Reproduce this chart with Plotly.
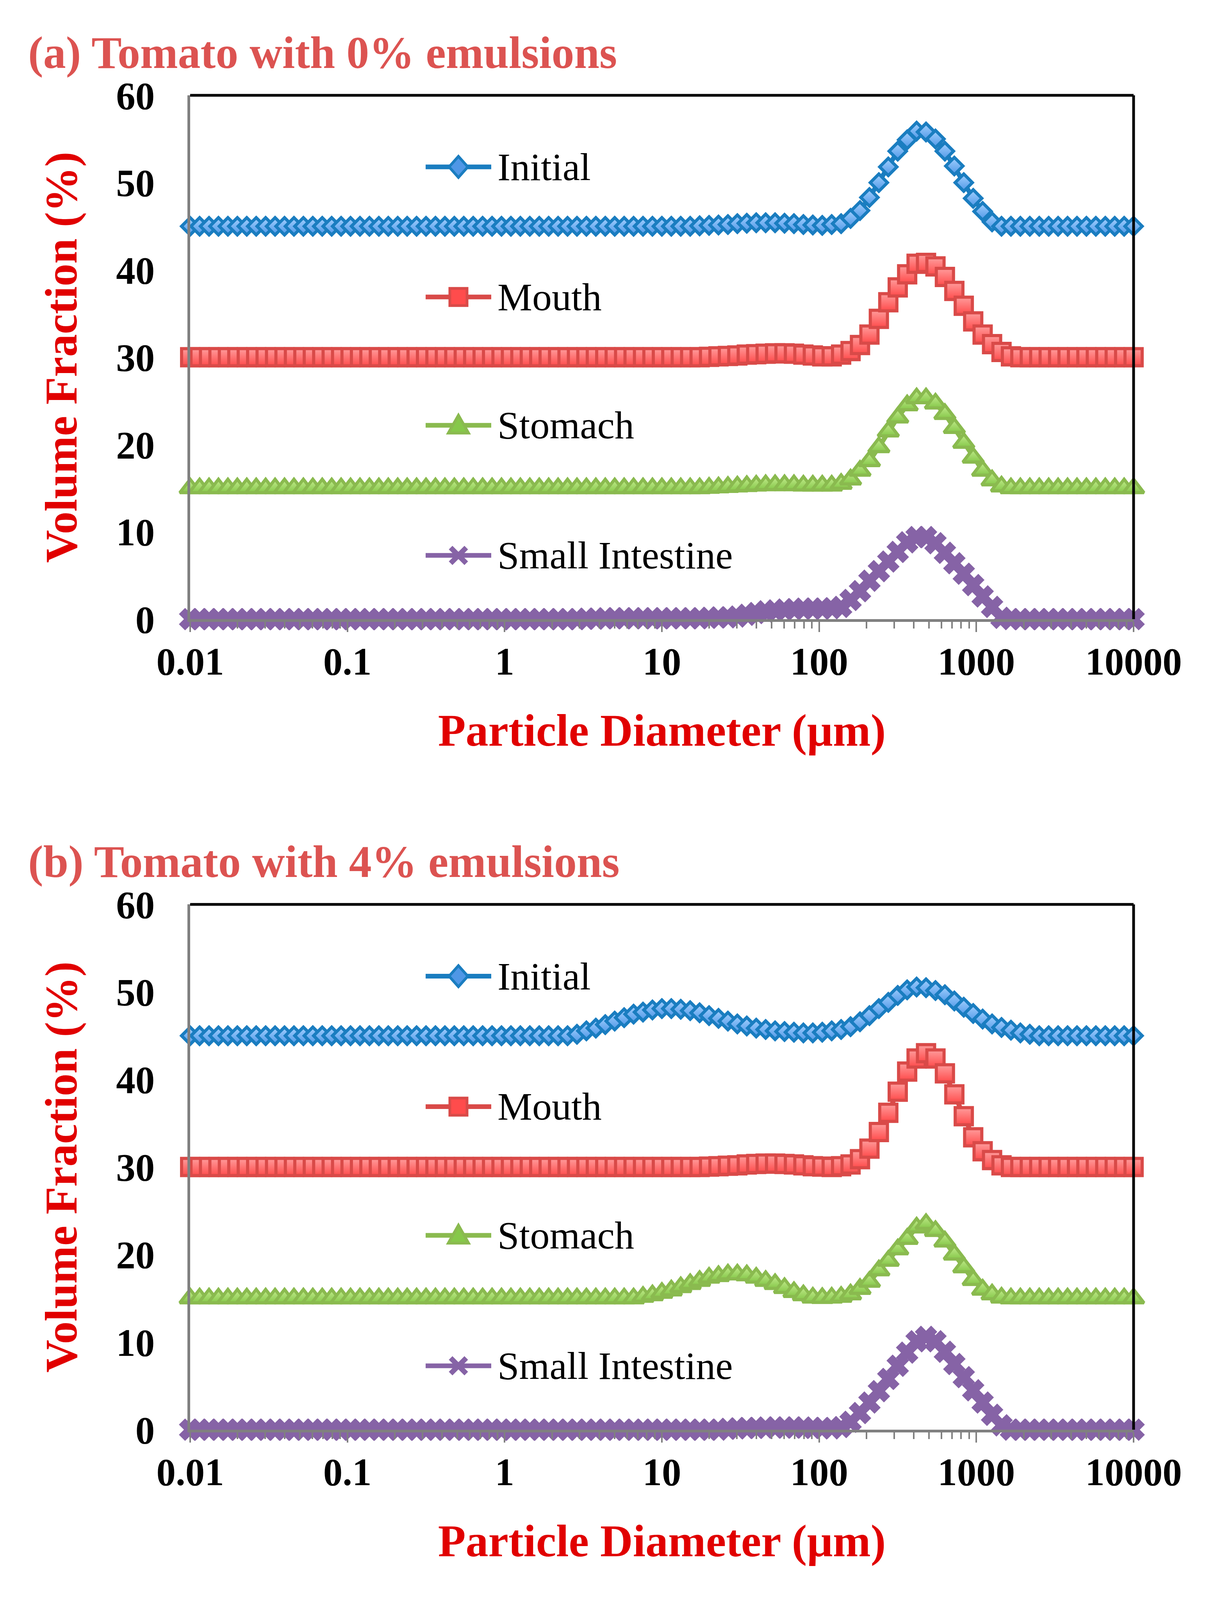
import numpy as np
import plotly.graph_objects as go

# particle size classes (um): 101 log-spaced bins, 0.01 .. 10000
SIZE_UM = np.logspace(-2, 4, 101)

STAGES = ["Initial", "Mouth", "Stomach", "Small Intestine"]
OFFSETS = [45, 30, 15, 0]  # curves are shifted up so they don't overlap
LEGEND_Y = [51.8, 36.9, 22.2, 7.3]

X_TICKS = [0.01, 0.1, 1, 10, 100, 1000, 10000]
X_TICKTEXT = ["0.01", "0.1", "1", "10", "100", "1000", "10000"]

# (a) tomato with 0% emulsion - volume fraction (%) per size class
A_INITIAL = [
    0, 0, 0, 0, 0, 0, 0, 0, 0, 0,
    0, 0, 0, 0, 0, 0, 0, 0, 0, 0,
    0, 0, 0, 0, 0, 0, 0, 0, 0, 0,
    0, 0, 0, 0, 0, 0, 0, 0, 0, 0,
    0, 0, 0, 0, 0, 0, 0, 0, 0, 0,
    0, 0, 0, 0, 0.05, 0.1, 0.15, 0.2, 0.3, 0.35,
    0.4, 0.4, 0.4, 0.35, 0.3, 0.2, 0.15, 0.1, 0.2, 0.3,
    0.9, 1.8, 3.3, 5.0, 6.8, 8.6, 9.9, 10.9, 10.8, 10.0,
    8.6, 6.9, 5.0, 3.2, 1.7, 0.5, 0, 0, 0, 0,
    0, 0, 0, 0, 0, 0, 0, 0, 0, 0, 0,
]
A_MOUTH = [
    0, 0, 0, 0, 0, 0, 0, 0, 0, 0,
    0, 0, 0, 0, 0, 0, 0, 0, 0, 0,
    0, 0, 0, 0, 0, 0, 0, 0, 0, 0,
    0, 0, 0, 0, 0, 0, 0, 0, 0, 0,
    0, 0, 0, 0, 0, 0, 0, 0, 0, 0,
    0, 0, 0, 0, 0, 0.05, 0.1, 0.15, 0.2, 0.3,
    0.35, 0.4, 0.45, 0.45, 0.4, 0.3, 0.2, 0.1, 0.1, 0.3,
    0.7, 1.4, 2.6, 4.4, 6.3, 8.0, 9.5, 10.7, 10.8, 10.4,
    9.2, 7.6, 5.9, 4.1, 2.6, 1.5, 0.6, 0.1, 0, 0,
    0, 0, 0, 0, 0, 0, 0, 0, 0, 0, 0,
]
A_STOMACH = [
    0, 0, 0, 0, 0, 0, 0, 0, 0, 0,
    0, 0, 0, 0, 0, 0, 0, 0, 0, 0,
    0, 0, 0, 0, 0, 0, 0, 0, 0, 0,
    0, 0, 0, 0, 0, 0, 0, 0, 0, 0,
    0, 0, 0, 0, 0, 0, 0, 0, 0, 0,
    0, 0, 0, 0, 0, 0.05, 0.1, 0.15, 0.2, 0.25,
    0.3, 0.35, 0.35, 0.35, 0.35, 0.3, 0.3, 0.3, 0.3, 0.5,
    1.0, 2.0, 3.1, 4.7, 6.5, 8.1, 9.5, 10.3, 10.3, 9.7,
    8.5, 6.9, 5.2, 3.5, 2.0, 0.9, 0.2, 0, 0, 0,
    0, 0, 0, 0, 0, 0, 0, 0, 0, 0, 0,
]
A_SMALL_INT = [
    0, 0, 0, 0, 0, 0, 0, 0, 0, 0,
    0, 0, 0, 0, 0, 0, 0, 0, 0, 0,
    0, 0, 0, 0, 0, 0, 0, 0, 0, 0,
    0, 0, 0, 0, 0, 0, 0, 0, 0, 0,
    0, 0, 0.05, 0.05, 0.1, 0.1, 0.1, 0.1, 0.1, 0.1,
    0.1, 0.1, 0.1, 0.1, 0.1, 0.15, 0.2, 0.2, 0.3, 0.5,
    0.7, 0.9, 1.0, 1.1, 1.15, 1.2, 1.2, 1.2, 1.25, 1.4,
    2.2, 3.2, 4.4, 5.5, 6.6, 7.7, 8.8, 9.4, 9.4, 8.7,
    7.6, 6.4, 5.2, 3.9, 2.6, 1.4, 0.15, 0, 0, 0,
    0, 0, 0, 0, 0, 0, 0, 0, 0, 0, 0,
]

# (b) tomato with 4% emulsion
B_INITIAL = [
    0, 0, 0, 0, 0, 0, 0, 0, 0, 0,
    0, 0, 0, 0, 0, 0, 0, 0, 0, 0,
    0, 0, 0, 0, 0, 0, 0, 0, 0, 0,
    0, 0, 0, 0, 0, 0, 0, 0, 0, 0,
    0, 0.16, 0.56, 0.87, 1.27, 1.67, 2.06, 2.46, 2.7, 2.94,
    3.1, 3.1, 3.02, 2.86, 2.62, 2.3, 1.98, 1.67, 1.35, 1.11,
    0.87, 0.71, 0.56, 0.48, 0.4, 0.32, 0.32, 0.4, 0.56, 0.71,
    1.03, 1.59, 2.3, 3.1, 3.81, 4.6, 5.24, 5.56, 5.48, 5.16,
    4.68, 3.97, 3.25, 2.54, 1.9, 1.35, 0.95, 0.63, 0.32, 0.16,
    0, 0, 0, 0, 0, 0, 0, 0, 0, 0, 0,
]
B_MOUTH = [
    0, 0, 0, 0, 0, 0, 0, 0, 0, 0,
    0, 0, 0, 0, 0, 0, 0, 0, 0, 0,
    0, 0, 0, 0, 0, 0, 0, 0, 0, 0,
    0, 0, 0, 0, 0, 0, 0, 0, 0, 0,
    0, 0, 0, 0, 0, 0, 0, 0, 0, 0,
    0, 0, 0, 0, 0, 0.05, 0.1, 0.15, 0.2, 0.3,
    0.35, 0.4, 0.4, 0.35, 0.3, 0.2, 0.1, 0.05, 0, 0.1,
    0.3, 0.9, 2.1, 4.0, 6.2, 8.6, 10.9, 12.4, 13.0, 12.4,
    10.7, 8.3, 5.8, 3.4, 1.8, 0.8, 0.2, 0, 0, 0,
    0, 0, 0, 0, 0, 0, 0, 0, 0, 0, 0,
]
B_STOMACH = [
    0, 0, 0, 0, 0, 0, 0, 0, 0, 0,
    0, 0, 0, 0, 0, 0, 0, 0, 0, 0,
    0, 0, 0, 0, 0, 0, 0, 0, 0, 0,
    0, 0, 0, 0, 0, 0, 0, 0, 0, 0,
    0, 0, 0, 0, 0, 0, 0, 0, 0.18, 0.36,
    0.64, 0.91, 1.28, 1.64, 2.0, 2.37, 2.55, 2.73, 2.73, 2.64,
    2.37, 2.0, 1.64, 1.18, 0.73, 0.36, 0.09, 0.05, 0.09, 0.18,
    0.46, 1.09, 1.9, 3.2, 4.3, 5.6, 6.8, 8.1, 8.5, 7.7,
    6.5, 5.0, 3.55, 2.1, 1.0, 0.46, 0.09, 0, 0, 0,
    0, 0, 0, 0, 0, 0, 0, 0, 0, 0, 0,
]
B_SMALL_INT = [
    0, 0, 0, 0, 0, 0, 0, 0, 0, 0,
    0, 0, 0, 0, 0, 0, 0, 0, 0, 0,
    0, 0, 0, 0, 0, 0, 0, 0, 0, 0,
    0, 0, 0, 0, 0, 0, 0, 0, 0, 0,
    0, 0, 0, 0, 0, 0, 0, 0, 0, 0,
    0, 0, 0, 0, 0, 0, 0, 0.1, 0.15, 0.2,
    0.2, 0.25, 0.25, 0.25, 0.25, 0.25, 0.2, 0.2, 0.15, 0.3,
    0.9, 1.9, 3.1, 4.4, 5.8, 7.3, 8.8, 10.1, 10.6, 10.1,
    8.9, 7.5, 6.0, 4.5, 3.1, 1.7, 0.5, 0, 0, 0,
    0, 0, 0, 0, 0, 0, 0, 0, 0, 0, 0,
]

PANELS = [
    ("(a) Tomato with 0% emulsions", [A_INITIAL, A_MOUTH, A_STOMACH, A_SMALL_INT]),
    ("(b) Tomato with 4% emulsions", [B_INITIAL, B_MOUTH, B_STOMACH, B_SMALL_INT]),
]

# marker look per stage: symbol, edge colour, fill top, fill bottom
STYLE = {
    "Initial": ("diamond", "#1a7dc0", "#a2d0ff", "#4f97e6"),
    "Mouth": ("square", "#d94a48", "#ff9c9c", "#ff4c4c"),
    "Stomach": ("triangle-up", "#8aba4f", "#c4ec8e", "#86c84a"),
    "Small Intestine": ("x", "#8663a6", "#8663a6", "#8663a6"),
}
MSIZE = {"Initial": 34, "Mouth": 44, "Stomach": 46, "Small Intestine": 46}

# legend sample glyphs, pixel paths around the sample centre
GLYPH = {
    "Initial": "M0,27 L24,0 L0,-27 L-24,0 Z",
    "Mouth": "M-22,-22 L22,-22 L22,22 L-22,22 Z",
    "Stomach": "M-26,-20 L26,-20 L0,26 Z",
}

SERIF = "Liberation Serif"
W = 3091
# the visible part of the 4350 px window is shorter, so the layout is
# squeezed vertically to keep everything on screen
H = 4094
S = H / 4350
PL, PR = 487, 2903
PT, PB = 259 * S, 3889 * S
A_BOTTOM, B_TOP = 1684 * S, 2460 * S
plot_w, plot_h = PR - PL, PB - PT

fig = go.Figure()

for p, (title, series) in enumerate(PANELS):
    ax = "" if p == 0 else "2"
    for name, off, vals in zip(STAGES, OFFSETS, series):
        sym, edge, top, bottom = STYLE[name]
        is_x = name == "Small Intestine"
        fig.add_trace(go.Scatter(
            x=SIZE_UM,
            y=np.array(vals) + off,
            name=name,
            mode="lines+markers",
            xaxis="x" + ax, yaxis="y" + ax,
            showlegend=False,
            cliponaxis=False,
            line=dict(color=edge, width=12),
            marker=dict(
                symbol=sym, size=MSIZE[name], color=top,
                gradient=dict(type="vertical", color=bottom) if not is_x else None,
                line=dict(color=edge, width=4 if is_x else 8),
            ),
        ))

axis_common = dict(
    showline=True, linecolor="#808080", linewidth=7,
    showgrid=False, zeroline=False,
    tickfont=dict(family=SERIF, size=99, color="black", weight="bold"),
)
xcommon = dict(
    axis_common, type="log", range=[-2, 4],
    tickvals=X_TICKS, ticktext=X_TICKTEXT,
    ticks="outside", ticklen=26, tickwidth=4, tickcolor="#808080",
    minor=dict(ticks="outside", ticklen=17, tickwidth=4, tickcolor="#808080", dtick="D1"),
    ticklabelstandoff=-10,
    title=dict(text="Particle Diameter (µm)", standoff=84,
               font=dict(family=SERIF, size=116, color="#e10000", weight="bold")),
)
ycommon = dict(
    axis_common, range=[0, 60], dtick=10, ticks="",
    ticklabelstandoff=64,
    title=dict(text="Volume Fraction (%)", standoff=64,
               font=dict(family=SERIF, size=116, color="#e10000", weight="bold")),
)

dom_a = [(PB - A_BOTTOM) / plot_h, 1]
dom_b = [0, (PB - B_TOP) / plot_h]

shapes, annotations = [], []
for p, (ax, dom) in enumerate(zip(["", "2"], [dom_a, dom_b])):
    # black top and right frame, grey left/bottom come from the axis lines
    shapes.append(dict(type="line", xref=f"x{ax} domain", yref=f"y{ax} domain",
                       x0=0, x1=1, y0=1, y1=1, line=dict(color="black", width=7)))
    shapes.append(dict(type="line", xref=f"x{ax} domain", yref=f"y{ax} domain",
                       x0=1, x1=1, y0=0, y1=1, line=dict(color="black", width=7)))

    # hand-drawn legend: line + big glyph + label, one row per stage
    for name, ly in zip(STAGES, LEGEND_Y):
        sym, edge, top, bottom = STYLE[name]
        shapes.append(dict(type="line", xref=f"x{ax} domain", yref=f"y{ax}",
                           x0=(1090 - PL) / plot_w, x1=(1258 - PL) / plot_w, y0=ly, y1=ly,
                           line=dict(color=edge, width=12)))
        cx = (1174 - PL) / plot_w
        if name in GLYPH:
            shapes.append(dict(type="path", xref=f"x{ax} domain", yref=f"y{ax}",
                               xsizemode="pixel", ysizemode="pixel", xanchor=cx, yanchor=ly,
                               path=GLYPH[name], fillcolor=bottom,
                               line=dict(color=edge, width=7)))
        else:
            for s in (1, -1):
                shapes.append(dict(type="line", xref=f"x{ax} domain", yref=f"y{ax}",
                                   xsizemode="pixel", ysizemode="pixel", xanchor=cx, yanchor=ly,
                                   x0=-20, x1=20, y0=-20 * s, y1=20 * s,
                                   line=dict(color=edge, width=13)))
        annotations.append(dict(
            text=name, xref=f"x{ax} domain", yref=f"y{ax}",
            x=(1272 - PL) / plot_w, y=ly, xanchor="left", yanchor="middle",
            showarrow=False, font=dict(family=SERIF, size=100, color="black"),
        ))

    annotations.append(dict(
        text=PANELS[p][0], xref="paper", yref="paper",
        x=(70 - PL) / plot_w, y=dom[1] + 116 * S / plot_h,
        xanchor="left", yanchor="middle", showarrow=False,
        font=dict(family=SERIF, size=116, color="#dc5351", weight="bold"),
    ))

fig.update_layout(
    width=W, height=H,
    margin=dict(l=PL, r=W - PR, t=PT, b=H - PB),
    paper_bgcolor="white", plot_bgcolor="white",
    showlegend=False,
    xaxis=dict(xcommon, domain=[0, 1], anchor="y"),
    yaxis=dict(ycommon, domain=dom_a, anchor="x"),
    xaxis2=dict(xcommon, domain=[0, 1], anchor="y2"),
    yaxis2=dict(ycommon, domain=dom_b, anchor="x2"),
    shapes=shapes,
    annotations=annotations,
)

fig.write_html("out.html", config={"displayModeBar": False},
               post_script="document.body.style.margin='0px';")
